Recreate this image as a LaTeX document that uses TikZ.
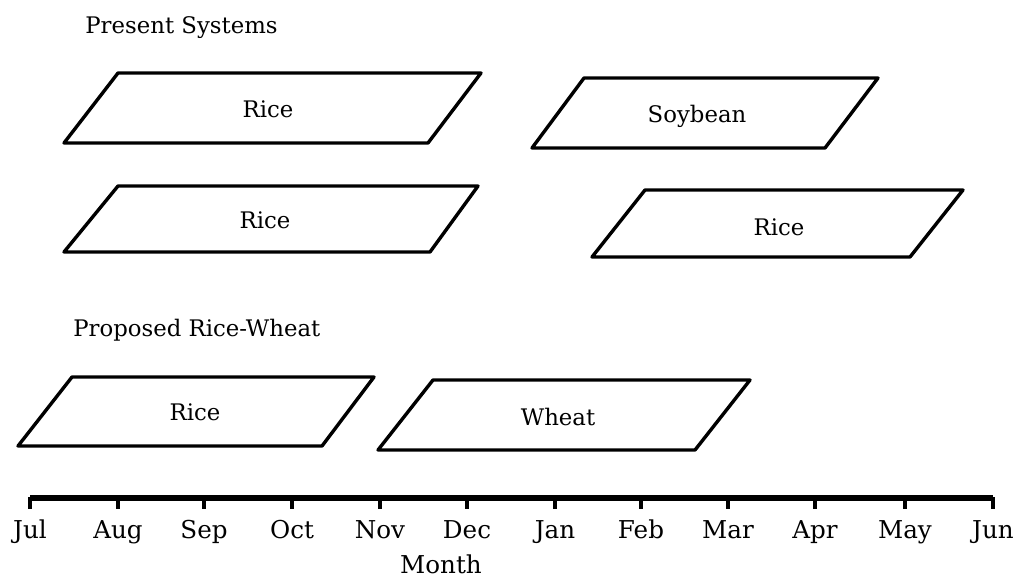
\documentclass[tikz,border=0pt]{standalone}
\usepackage{fontspec}
\setmainfont{DejaVu Serif}
\usepackage{tikz}

\begin{document}
\begin{tikzpicture}[
  x=0.5pt, y=-0.5pt,
  crop/.style={draw, line width=1.7pt, line join=round},
  croplabel/.style={font=\fontsize{11.4}{13}\selectfont, inner sep=0pt, anchor=base},
  heading/.style={font=\fontsize{11.4}{13}\selectfont, anchor=base west, inner sep=0pt},
  axis/.style={line width=2.6pt},
  tick/.style={line width=1.7pt},
  monthlbl/.style={font=\fontsize{12.3}{14}\selectfont, anchor=base, inner sep=0pt}
]
\useasboundingbox (0,0) rectangle (1015,578);

\node[heading] (present) at (85,33) {Present Systems};
\node[heading] (proposed) at (73,336) {Proposed Rice-Wheat};

% present systems
\draw[crop] (118,73) -- (481,73) -- (428,143) -- (64,143) -- cycle;
\node[croplabel] (rice1) at (268,117) {Rice};
\draw[crop] (584,78) -- (878,78) -- (825,148) -- (532,148) -- cycle;
\node[croplabel] (soy) at (697,122) {Soybean};
\draw[crop] (118,186) -- (478,186) -- (430,252) -- (64,252) -- cycle;
\node[croplabel] (rice2) at (265,228) {Rice};
\draw[crop] (645,190) -- (963,190) -- (910,257) -- (592,257) -- cycle;
\node[croplabel] (rice3) at (779,235) {Rice};

% proposed
\draw[crop] (72,377) -- (374,377) -- (322,446) -- (18,446) -- cycle;
\node[croplabel] (rice4) at (195,420) {Rice};
\draw[crop] (433,380) -- (750,380) -- (695,450) -- (378,450) -- cycle;
\node[croplabel] (wheat) at (558,425) {Wheat};

% month axis
\coordinate (a0) at (30,498);
\coordinate (a1) at (993,498);
\draw[axis] (a0) -- (a1);
\foreach \x/\m in {30/Jul,118/Aug,204/Sep,292/Oct,380/Nov,467/Dec,
                   555/Jan,641/Feb,728/Mar,815/Apr,905/May,993/Jun} {
  \draw[tick] (\x,497) -- (\x,509);
  \node[monthlbl] (m\m) at (\x,538) {\m};
}
\node[monthlbl] (month) at (441,573) {Month};
\end{tikzpicture}
\end{document}
